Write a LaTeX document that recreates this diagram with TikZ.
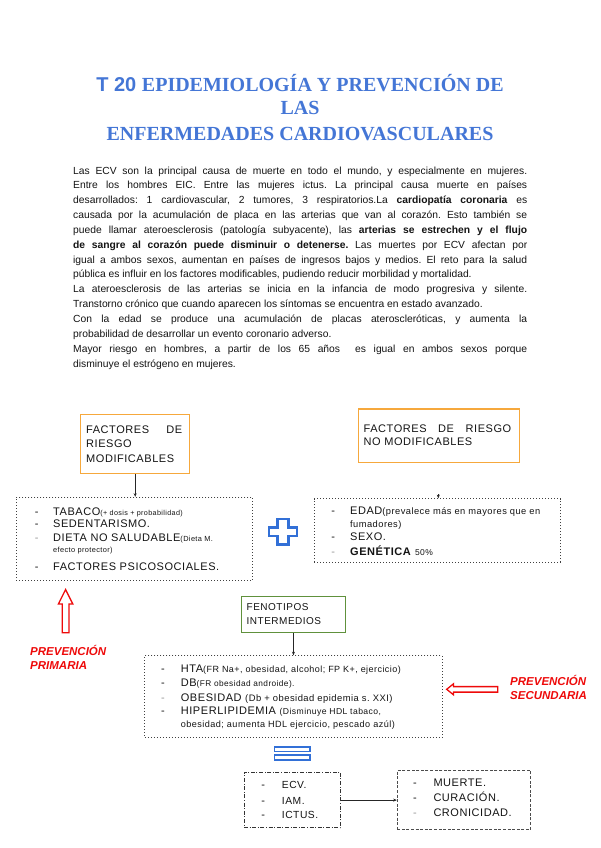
\documentclass[tikz,border=0pt]{standalone}
\usepackage{fontspec}
\setmainfont{Liberation Sans}
\newfontfamily\titleserif{Liberation Serif}
\newfontfamily\lsfont{Liberation Sans}[LetterSpace=5]
\usetikzlibrary{arrows.meta}
\definecolor{titleblue}{RGB}{68,118,214}
\definecolor{orangec}{RGB}{246,168,60}
\definecolor{greenc}{RGB}{96,145,60}
\definecolor{redc}{RGB}{238,10,10}
\definecolor{bluec}{RGB}{50,112,215}
\definecolor{textc}{RGB}{20,20,20}
\newcommand\fsz[1]{\fontsize{#1}{#1}\selectfont}
\frenchspacing
\tikzset{
  box/.style={draw, inner sep=0pt, anchor=north west},
  orangebox/.style={box, draw=orangec, line width=1.4pt},
  greenbox/.style={box, draw=greenc, line width=1.4pt},
  dotbox/.style={box, draw=black!75, line width=0.9pt, dash pattern=on 0.9pt off 2.1pt},
  dashdotbox/.style={box, draw=black!80, line width=1.1pt, dash pattern=on 4pt off 1.6pt on 1pt off 1.6pt},
  dashbox/.style={box, draw=black!70, line width=0.9pt, dash pattern=on 3pt off 1.6pt},
  txt/.style={anchor=base west, inner sep=0pt, text=textc, font=\lsfont\fsz{11}},
  dashmark/.style={anchor=base, inner sep=0pt, text=textc, font=\fsz{11}},
  graydash/.style={dashmark, text=black!40},
  titlestyle/.style={anchor=base, inner sep=0pt, text=titleblue, font=\fsz{20}},
  redtxt/.style={anchor=base west, inner sep=0pt, text=redc, font=\fsz{11.5}\bfseries\itshape},
  conn/.style={-{Stealth[length=3.6pt,width=3pt]}, line width=0.6pt, draw=black!85},
  redarrow/.style={draw=redc, line width=1.3pt, fill=white, line join=miter},
  bluesym/.style={draw=bluec, line width=2.1pt, fill=white, line join=miter}
}
\begin{document}
\begin{tikzpicture}[x=1pt,y=-1pt]
\useasboundingbox[fill=white] (0,0) rectangle (600,848);

% Title
\node[titlestyle] (t1) at (300,91.7) {{\bfseries T 20} {\titleserif\bfseries EPIDEMIOLOGÍA Y PREVENCIÓN DE}};
\node[titlestyle] (t2) at (300,115) {\titleserif\bfseries LAS};
\node[titlestyle] (t3) at (300,140.7) {\titleserif\bfseries ENFERMEDADES CARDIOVASCULARES};

% Paragraph
\node[anchor=base west, inner sep=0pt, text width=454pt, align=justify, text=textc,
      font=\fontsize{10.3}{14.85}\selectfont] (para) at (73,174) {%
Las ECV son la principal causa de muerte en todo el mundo, y especialmente en mujeres.\linebreak
Entre los hombres EIC. Entre las mujeres ictus. La principal causa muerte en países\linebreak
desarrollados: 1 cardiovascular, 2 tumores, 3 respiratorios.La \textbf{cardiopatía coronaria} es\linebreak
causada por la acumulación de placa en las arterias que van al corazón. Esto también se\linebreak
puede llamar ateroesclerosis (patología subyacente), las \textbf{arterias se estrechen y el flujo}\linebreak
\textbf{de sangre al corazón puede disminuir o detenerse.} Las muertes por ECV afectan por\linebreak
igual a ambos sexos, aumentan en países de ingresos bajos y medios. El reto para la salud\linebreak
pública es influir en los factores modificables, pudiendo reducir morbilidad y mortalidad.\par
La ateroesclerosis de las arterias se inicia en la infancia de modo progresiva y silente.\linebreak
Transtorno crónico que cuando aparecen los síntomas se encuentra en estado avanzado.\par
Con la edad se produce una acumulación de placas ateroscleróticas, y aumenta la\linebreak
probabilidad de desarrollar un evento coronario adverso.\par
Mayor riesgo en hombres, a partir de los 65 años \ es igual en ambos sexos porque\linebreak
disminuye el estrógeno en mujeres.};

% Boxes
\node[orangebox, minimum width=109pt, minimum height=59pt] (fm) at (80,414) {};
\node[orangebox, minimum width=161pt, minimum height=53.4pt] (fnm) at (357.5,408.3) {};
\node[dotbox, minimum width=236.3pt, minimum height=83.3pt] (lm) at (16,496.8) {};
\node[dotbox, minimum width=246pt, minimum height=63.4pt] (lnm) at (314,498.3) {};
\node[greenbox, minimum width=104.5pt, minimum height=36pt] (fen) at (240.5,595.5) {};
\node[dotbox, minimum width=297.5pt, minimum height=81.5pt] (lfen) at (144.3,655.3) {};
\node[dashdotbox, minimum width=96.5pt, minimum height=55.5pt] (ecv) at (243.5,771.8) {};
\node[dashbox, minimum width=133.3pt, minimum height=59pt] (res) at (396.8,770.2) {};

% Orange box texts
\node[txt] (fm1) at (86,433.5) {\makebox[96pt][s]{FACTORES DE}};
\node[txt] (fm2) at (86,447.5) {RIESGO};
\node[txt] (fm3) at (86,462) {MODIFICABLES};
\node[txt] (fnm1) at (363.5,432.3) {\makebox[147.5pt][s]{FACTORES DE RIESGO}};
\node[txt] (fnm2) at (363.5,445.7) {NO MODIFICABLES};

% Left dotted list
\node[dashmark] (d1) at (36.7,515) {-};
\node[dashmark] (d2) at (36.7,527.5) {-};
\node[graydash] (d3) at (36.7,541.7) {-};
\node[dashmark] (d4) at (36.7,570) {-};
\node[txt] (l1) at (53,515) {TABACO{\fsz{7.2}(+ dosis + probabilidad)}};
\node[txt] (l2) at (53,527.5) {SEDENTARISMO.};
\node[txt] (l3) at (53,541.7) {DIETA NO SALUDABLE{\fsz{7.4}(Dieta M.}};
\node[txt, font=\lsfont\fsz{7.4}] (l3b) at (53,552.5) {efecto protector)};
\node[txt] (l4) at (53,570) {FACTORES PSICOSOCIALES.};

% Right dotted list
\node[dashmark] (e1) at (333.3,514) {-};
\node[dashmark] (e2) at (333.3,540.7) {-};
\node[graydash] (e3) at (333.3,555) {-};
\node[txt] (r1) at (350,514) {EDAD{\fsz{9.3}(prevalece más en mayores que en}};
\node[txt, font=\lsfont\fsz{9.3}] (r1b) at (350,527.3) {fumadores)};
\node[txt] (r2) at (350,540.7) {SEXO.};
\node[txt] (r3) at (350,555) {\textbf{GENÉTICA} {\fsz{8.5}50\%}};

% Blue plus
\draw[bluesym, shift={(283,531.7)}] (-5.5,-12.8) -- (5.5,-12.8) -- (5.5,-4.2) -- (14.2,-4.2) -- (14.2,4.2)
  -- (5.5,4.2) -- (5.5,12.8) -- (-5.5,12.8) -- (-5.5,4.2) -- (-14.2,4.2) -- (-14.2,-4.2) -- (-5.5,-4.2) -- cycle;

% Red up arrow + text
\draw[redarrow] (65.6,589.5) -- (72.8,604) -- (69,604) -- (69,632.8) -- (62.2,632.8) -- (62.2,604) -- (58.4,604) -- cycle;
\node[redtxt] (pp1) at (30,655.3) {PREVENCIÓN};
\node[redtxt] (pp2) at (30,669.3) {PRIMARIA};

% Fenotipos
\node[txt, font=\lsfont\fsz{10}] (fe1) at (246.5,610) {FENOTIPOS};
\node[txt, font=\lsfont\fsz{10}] (fe2) at (246.5,624.5) {INTERMEDIOS};

\node[dashmark] (g1) at (163,672.7) {-};
\node[dashmark] (g2) at (163,686) {-};
\node[graydash] (g3) at (163,701) {-};
\node[dashmark] (g4) at (163,714.3) {-};
\node[txt] (f1) at (180.7,672.7) {HTA{\fsz{9}(FR Na+, obesidad, alcohol; FP K+, ejercicio)}};
\node[txt] (f2) at (180.7,686) {DB{\fsz{8.3}(FR obesidad androide).}};
\node[txt] (f3) at (180.7,701) {OBESIDAD {\fsz{9.4}(Db + obesidad epidemia s. XXI)}};
\node[txt] (f4) at (180.7,714.3) {HIPERLIPIDEMIA {\fsz{8.6}(Disminuye HDL tabaco,}};
\node[txt, font=\lsfont\fsz{9.1}] (f4b) at (180.7,727.5) {obesidad; aumenta HDL ejercicio, pescado azúl)};

% Red left arrow + text
\draw[redarrow] (446.7,689.3) -- (453.5,683.8) -- (453.5,686.6) -- (497.7,686.6) -- (497.7,692.1) -- (453.5,692.1) -- (453.5,694.8) -- cycle;
\node[redtxt] (ps1) at (510,685) {PREVENCIÓN};
\node[redtxt] (ps2) at (510,699) {SECUNDARIA};

% Blue equals
\draw[bluesym, line width=1.6pt] (274.3,746.9) rectangle (310,751.6);
\draw[bluesym, line width=1.6pt] (274.3,754.7) rectangle (310,759.8);

% ECV box
\node[dashmark] (h1) at (263.3,788.3) {-};
\node[dashmark] (h2) at (263.3,804) {-};
\node[dashmark] (h3) at (263.3,818.3) {-};
\node[txt, font=\lsfont\fsz{10.3}] (c1) at (281.7,788.3) {ECV.};
\node[txt, font=\lsfont\fsz{10.3}] (c2) at (281.7,804) {IAM.};
\node[txt, font=\lsfont\fsz{10.3}] (c3) at (281.7,818.3) {ICTUS.};

% Result box
\node[dashmark] (k1) at (415,786.7) {-};
\node[dashmark] (k2) at (415,801) {-};
\node[graydash] (k3) at (415,816) {-};
\node[txt] (m1) at (433.3,786.7) {MUERTE.};
\node[txt] (m2) at (433.3,801) {CURACIÓN.};
\node[txt] (m3) at (433.3,816) {CRONICIDAD.};

% Connectors
\draw[conn] (fm.south) -- (lm.north -| fm.south);
\coordinate (tk) at (438.3,494.3);
\draw[conn] (tk) -- (lnm.north -| tk);
\draw[conn] (fen.south) -- (lfen.north -| fen.south);
\draw[conn] (ecv.east) -- (res.west |- ecv.east);
\end{tikzpicture}
\end{document}
